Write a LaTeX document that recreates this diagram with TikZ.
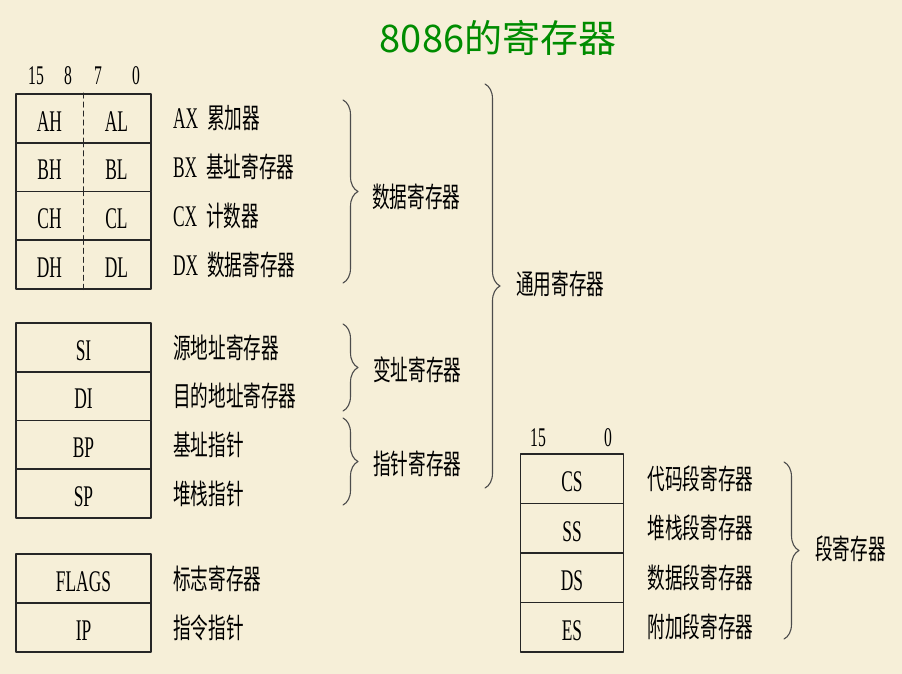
\documentclass[tikz,border=0pt]{standalone}
\usepackage{fontspec}
\setmainfont{Liberation Serif}
\newfontfamily\cjk[FakeStretch=0.63]{Noto Sans CJK SC}
\newfontfamily\reg[FakeStretch=0.58]{Liberation Serif}
\newfontfamily\titlefont{Noto Sans CJK SC}
\usetikzlibrary{positioning,calc,decorations.pathreplacing}
\definecolor{paper}{RGB}{246,239,216}
\definecolor{titlegreen}{RGB}{0,140,0}
\tikzset{
  regcell/.style={draw=black!85, line width=1.8pt, minimum width=135pt, minimum height=48.75pt, inner sep=0pt},
  regname/.style={font=\reg\fontsize{30pt}{32pt}\selectfont, inner sep=0pt},
  bitlbl/.style={font=\reg\fontsize{27pt}{29pt}\selectfont, inner sep=0pt},
  desc/.style={font=\cjk\fontsize{28pt}{30pt}\selectfont, inner sep=0pt, anchor=west},
  grplbl/.style={desc},
  halfline/.style={draw=black!85, line width=1.3pt, dash pattern=on 5pt off 4pt},
  grpbrace/.style={draw=black!70, line width=1.1pt, decorate, decoration={brace, amplitude=15pt}},
}
\newcommand{\regtxt}[1]{{\reg\fontsize{30pt}{32pt}\selectfont #1}\hspace{9pt}}
\begin{document}
\begin{tikzpicture}[x=1pt, y=-1pt, line join=round, line cap=round]
  \fill[paper] (0,0) rectangle (902,674);
  \useasboundingbox (0,0) rectangle (902,674);
  % title
  \node[font=\titlefont\fontsize{38pt}{40pt}\selectfont, text=titlegreen, inner sep=0pt] (title) at (498,38) {8086的寄存器};
  % bit numbers
  \node[bitlbl] (hi15) at (36,76) {15};
  \node[bitlbl] (hi8) at (68,76) {8};
  \node[bitlbl] (lo7) at (98,76) {7};
  \node[bitlbl] (lo0) at (136,76) {0};
  \node[bitlbl] (seg15) at (538,438) {15};
  \node[bitlbl] (seg0) at (608,438) {0};
  % data registers
  \foreach \nm/\hi/\lo/\xn/\txt [count=\i] in {ax/AH/AL/AX/累加器, bx/BH/BL/BX/基址寄存器, cx/CH/CL/CX/计数器, dx/DH/DL/DX/数据寄存器}
  {
    \node[regcell] (\nm) at (83.5,{94+48.75*(\i-0.5)}) {};
    \draw[halfline] (\nm.north) -- (\nm.south);
    \node[regname] (\nm hi) at ($(\nm)+(-34,3)$) {\hi};
    \node[regname] (\nm lo) at ($(\nm)+(33,3)$) {\lo};
    \node[desc, right=21pt of \nm] (\nm desc) {\regtxt{\xn}\txt};
  }
  % index and pointer registers
  \foreach \nm/\xn/\txt [count=\i] in {si/SI/源地址寄存器, di/DI/目的地址寄存器, bp/BP/基址指针, sp/SP/堆栈指针}
  {
    \node[regcell] (\nm) at (83.5,{323+48.75*(\i-0.5)}) {};
    \node[regname] (\nm name) at ($(\nm)+(0,3)$) {\xn};
    \node[desc, right=21pt of \nm] (\nm desc) {\txt};
  }
  % control registers
  \foreach \nm/\xn/\txt [count=\i] in {flags/FLAGS/标志寄存器, ip/IP/指令指针}
  {
    \node[regcell] (\nm) at (83.5,{554+49*(\i-0.5)}) {};
    \node[regname] (\nm name) at ($(\nm)+(0,3)$) {\xn};
    \node[desc, right=21pt of \nm] (\nm desc) {\txt};
  }
  % segment registers
  \foreach \nm/\xn/\txt [count=\i] in {cs/CS/代码段寄存器, ss/SS/堆栈段寄存器, ds/DS/数据段寄存器, es/ES/附加段寄存器}
  {
    \node[regcell, minimum width=103pt, minimum height=49.5pt] (\nm) at (572,{454+49.5*(\i-0.5)}) {};
    \node[regname] (\nm name) at ($(\nm)+(0,3)$) {\xn};
    \node[desc, right=23pt of \nm] (\nm desc) {\txt};
  }
  % braces
  \coordinate (datatop) at (343,100);   \coordinate (databot) at (343,283);
  \coordinate (idxtop) at (343,324);    \coordinate (idxbot) at (343,411);
  \coordinate (ptrtop) at (343,418);    \coordinate (ptrbot) at (343,505);
  \coordinate (gentop) at (485,84);     \coordinate (genbot) at (485,488);
  \coordinate (segtop) at (784,462);    \coordinate (segbot) at (784,639);
  \draw[grpbrace] (datatop) -- (databot);
  \draw[grpbrace] (idxtop) -- (idxbot);
  \draw[grpbrace] (ptrtop) -- (ptrbot);
  \draw[grpbrace] (gentop) -- (genbot);
  \draw[grpbrace] (segtop) -- (segbot);
  \node[grplbl] (datalbl) at (372,197) {数据寄存器};
  \node[grplbl] (idxlbl) at (373,370) {变址寄存器};
  \node[grplbl] (ptrlbl) at (373,464) {指针寄存器};
  \node[grplbl] (genlbl) at (516,284) {通用寄存器};
  \node[grplbl] (seglbl) at (815,549) {段寄存器};
\end{tikzpicture}
\end{document}
